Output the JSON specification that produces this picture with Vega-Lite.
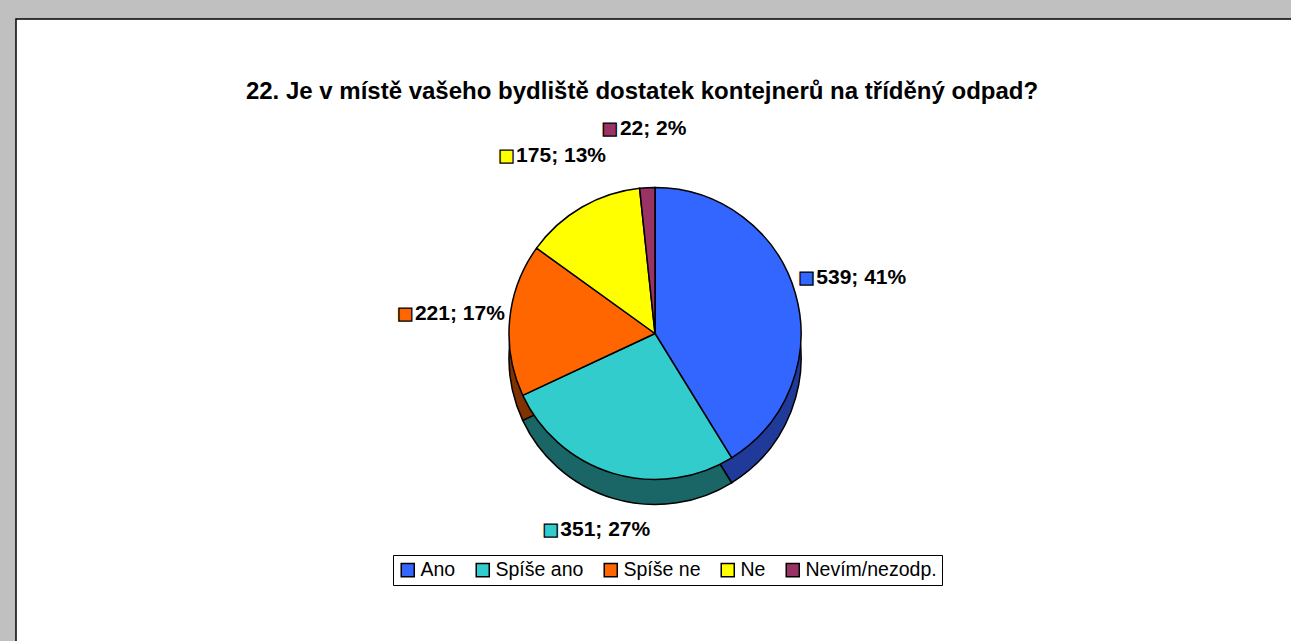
{
  "$schema": "https://vega.github.io/schema/vega-lite/v6.json",
  "width": 1291,
  "height": 641,
  "autosize": {"type": "fit", "contains": "padding"},
  "padding": {"top": 19, "left": 16, "right": -3, "bottom": -3},
  "background": "#c0c0c0",
  "view": {"fill": "white", "stroke": "black", "strokeWidth": 1.5},
  "title": {
    "text": "22. Je v místě vašeho bydliště dostatek kontejnerů na tříděný odpad?",
    "font": "Liberation Sans",
    "fontSize": 24,
    "fontWeight": "bold",
    "color": "black",
    "anchor": "middle",
    "baseline": "alphabetic",
    "offset": -104,
    "dx": -13
  },
  "data": {
    "values": [
      {"cat": "Ano", "count": 539, "label": "539; 41%", "ord": 1},
      {"cat": "Spíše ano", "count": 351, "label": "351; 27%", "ord": 2},
      {"cat": "Spíše ne", "count": 221, "label": "221; 17%", "ord": 3},
      {"cat": "Ne", "count": 175, "label": "175; 13%", "ord": 4},
      {"cat": "Nevím/nezodp.", "count": 22, "label": "22; 2%", "ord": 5}
    ]
  },
  "encoding": {
    "theta": {"field": "count", "type": "quantitative", "stack": true},
    "order": {"field": "ord", "type": "quantitative", "sort": "ascending"}
  },
  "layer": [
    {
      "mark": {"type": "arc", "outerRadius": 146, "yOffset": 27, "stroke": "black", "strokeWidth": 1.5},
      "encoding": {
        "color": {
          "field": "cat", "type": "nominal", "legend": null,
          "scale": {"domain": ["Ano", "Spíše ano", "Spíše ne", "Ne", "Nevím/nezodp."],
                    "range": ["#1f3a99", "#1a6666", "#803300", "#808000", "#4d1a33"]}
        }
      }
    },
    {
      "mark": {"type": "arc", "outerRadius": 146, "yOffset": 2, "stroke": "black", "strokeWidth": 1.5},
      "encoding": {
        "color": {
          "field": "cat", "type": "nominal",
          "scale": {"domain": ["Ano", "Spíše ano", "Spíše ne", "Ne", "Nevím/nezodp."],
                    "range": ["#3366ff", "#33cccc", "#ff6600", "#ffff00", "#993366"]},
          "legend": {
            "title": null,
            "orient": "none",
            "legendX": 377,
            "legendY": 536,
            "direction": "horizontal",
            "strokeColor": "black",
            "padding": 5,
            "symbolType": "square",
            "symbolSize": 170,
            "symbolStrokeColor": "black",
            "symbolStrokeWidth": 1.5,
            "labelFont": "Liberation Sans",
            "labelFontSize": 19.5,
            "labelColor": "black",
            "labelOffset": 3,
            "columnPadding": 17
          }
        }
      }
    },
    {
      "mark": {"type": "text", "radius": 205, "yOffset": 2, "align": "right", "baseline": "middle", "dx": {"expr": "7 - length(datum.label) * 5.6"}, "font": "DejaVu Sans", "fontSize": 17, "stroke": "black", "strokeWidth": 1.3},
      "encoding": {
        "text": {"value": "■"},
        "color": {
          "field": "cat", "type": "nominal", "legend": null,
          "scale": {"domain": ["Ano", "Spíše ano", "Spíše ne", "Ne", "Nevím/nezodp."],
                    "range": ["#3366ff", "#33cccc", "#ff6600", "#ffff00", "#993366"]}
        }
      }
    },
    {
      "mark": {"type": "text", "radius": 205, "yOffset": 2, "align": "center", "baseline": "middle", "dx": 9, "font": "Liberation Sans", "fontSize": 21, "fontWeight": "bold", "fill": "black"},
      "encoding": {
        "text": {"field": "label", "type": "nominal"},
        "detail": {"field": "cat", "type": "nominal"}
      }
    }
  ],
  "resolve": {"scale": {"color": "independent"}, "legend": {"color": "independent"}}
}
